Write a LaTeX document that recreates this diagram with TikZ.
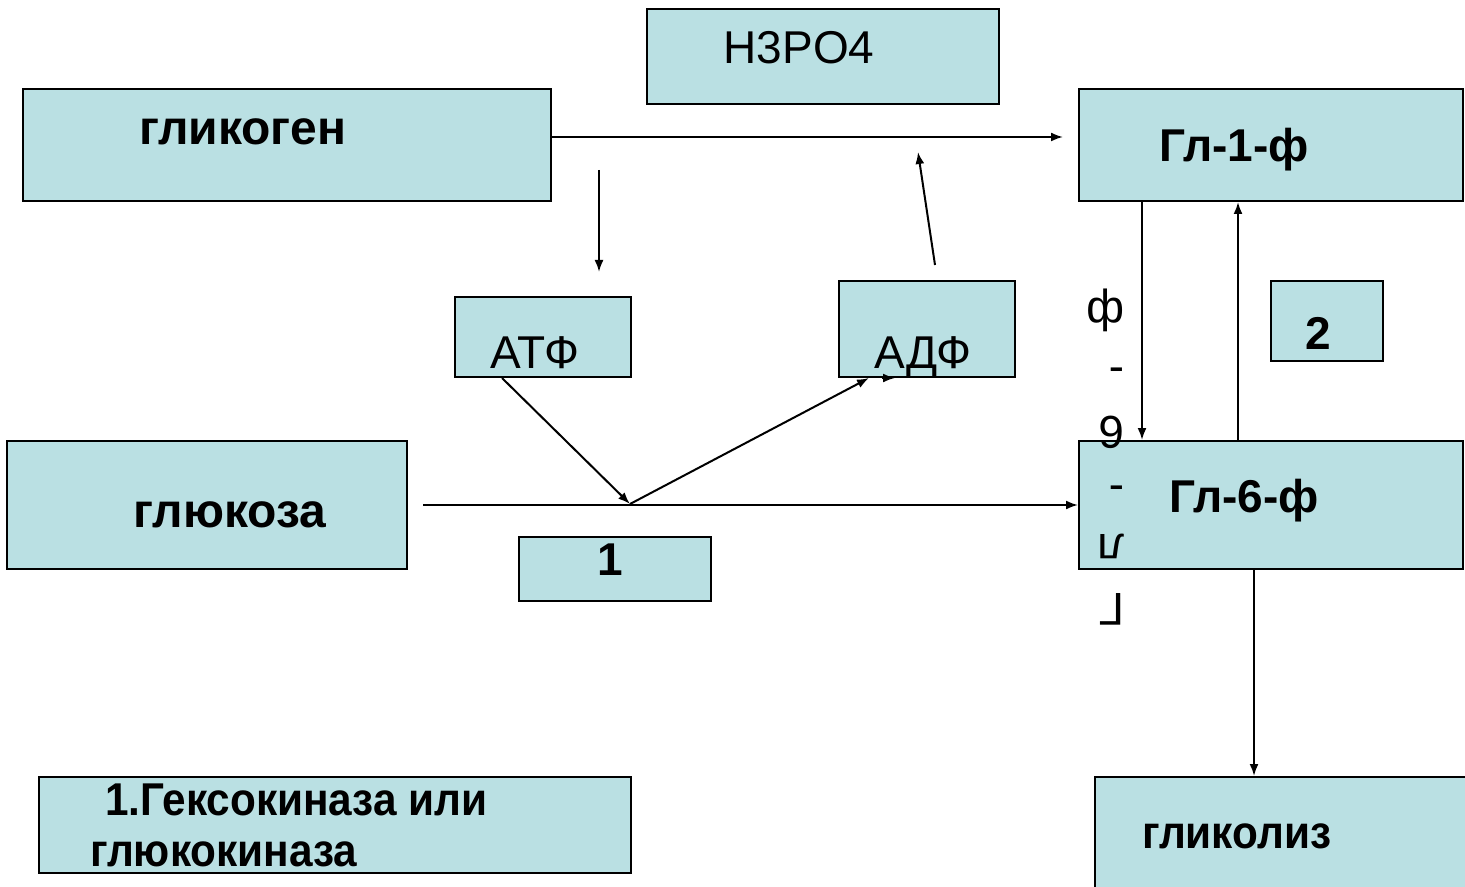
\documentclass[tikz,border=0pt]{standalone}
\usepackage{fontspec}
\setmainfont{Liberation Sans}
\newfontfamily\narrowfont{Liberation Sans}[FakeStretch=0.92]
\usetikzlibrary{arrows.meta, positioning, fit}
\definecolor{boxblue}{RGB}{186,224,227}

\begin{document}
\begin{tikzpicture}[x=0.5pt, y=-0.5pt,
    box/.style={draw, line width=1pt, fill=boxblue, inner sep=0pt},
    txt/.style={font=\fontsize{23}{28}\selectfont, inner sep=0pt},
    btxt/.style={font=\fontsize{23}{28}\selectfont\bfseries, inner sep=0pt},
    bigtxt/.style={font=\fontsize{24}{28}\selectfont\bfseries, inner sep=0pt},
    ntxt/.style={font=\fontsize{23}{28}\selectfont\narrowfont\bfseries, inner sep=0pt},
    arr/.style={-{Latex[length=6pt, width=4.5pt]}, line width=1pt}]
  \useasboundingbox (0,0) rectangle (1465,887);

  % Boxes ------------------------------------------------------------------
  \node[box, fit={(647,9) (999,104)}] (hpo) {};
  \node[box, fit={(23,89) (551,201)}] (glikogen) {};
  \node[box, fit={(1079,89) (1463,201)}] (gl1f) {};
  \node[box, fit={(455,297) (631,377)}] (atf) {};
  \node[box, fit={(839,281) (1015,377)}] (adf) {};
  \node[box, fit={(1271,281) (1383,361)}] (enz2) {};
  \node[box, fit={(7,441) (407,569)}] (glukoza) {};
  \node[box, fit={(1079,441) (1463,569)}] (gl6f) {};
  \node[box, fit={(519,537) (711,601)}] (enz1) {};
  \node[box, fit={(39,777) (631,873)}] (legend) {};
  \node[box, fit={(1095,777) (1475,900)}] (glikoliz) {};

  % Texts ------------------------------------------------------------------
  \node[txt, anchor=base] (hpo-t) at (799,64) {H3PO4};
  \node[bigtxt, anchor=base] (glikogen-t) at (243,145) {гликоген};
  \node[btxt, anchor=base] (gl1f-t) at (1234,162) {Гл-1-ф};
  \node[txt, anchor=base] (atf-t) at (535,368) {АТФ};
  \node[txt, anchor=base] (adf-t) at (923,368) {АДФ};
  \node[btxt, anchor=base] (enz2-t) at (1318,350) {2};
  \node[bigtxt, anchor=base] (glukoza-t) at (230,527) {глюкоза};
  \node[btxt, anchor=base] (gl6f-t) at (1244,512) {Гл-6-ф};
  \node[btxt, anchor=base] (enz1-t) at (610,575) {1};
  \node[ntxt, anchor=base west] (legend-t1) at (105,815) {1.Гексокиназа или};
  \node[ntxt, anchor=base west] (legend-t2) at (90,866) {глюкокиназа};
  \node[ntxt, anchor=base west] (glikoliz-t) at (1142,848) {гликолиз};
  \node[txt, rotate=180, align=left, font=\fontsize{23}{29.5}\selectfont]
    (vert-t) at (1106,457) {Г\\л\\-\\6\\-\\ф};

  % Free ends --------------------------------------------------------------
  \coordinate (gl1in) at (1063,137);
  \coordinate (dtop) at (599,170);
  \coordinate (dbot) at (599,272);
  \coordinate (ubot) at (935,265);
  \coordinate (utop) at (918,152);
  \coordinate (jn) at (630,504);
  \coordinate (glkin) at (423,505);

  % Connectors -------------------------------------------------------------
  \draw[arr] (glikogen.east |- gl1in) -- (gl1in);
  \draw[arr] (dtop) -- (dbot);
  \draw[arr] (ubot) -- (utop);
  \draw[arr] ([xshift=24pt]atf.south west) -- (jn);
  \draw[arr] (jn) -- ([xshift=15.5pt]adf.south west);
  \draw[arr] ([xshift=22pt]adf.south west) -- ([xshift=28.5pt]adf.south west);
  \draw[arr] (glkin) -- (gl6f.west |- glkin);
  \draw[arr] ([xshift=32pt]gl1f.south west) -- ([xshift=32pt]gl6f.north west);
  \draw[arr] ([xshift=80pt]gl6f.north west) -- ([xshift=80pt]gl1f.south west);
  \draw[arr] ([xshift=88pt]gl6f.south west) -- ([xshift=80pt]glikoliz.north west);
\end{tikzpicture}
\end{document}
